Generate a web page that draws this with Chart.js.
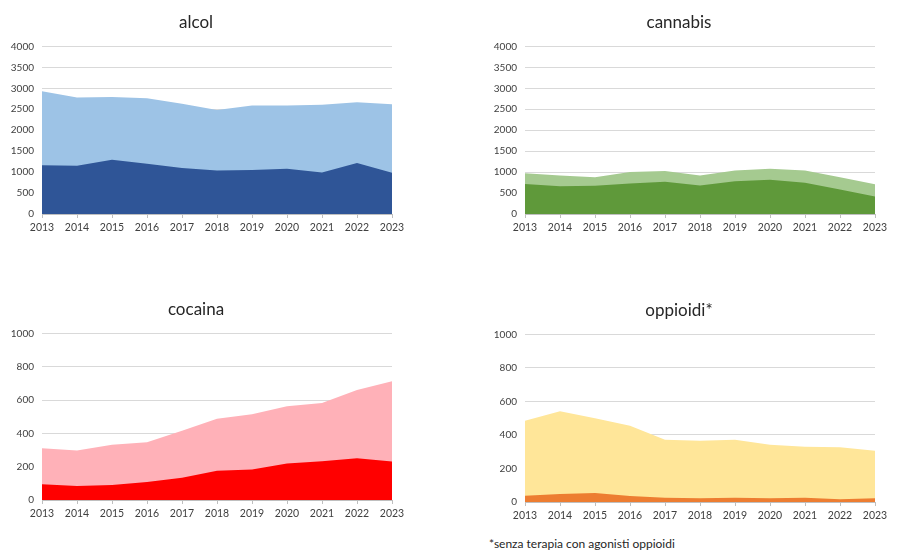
<!DOCTYPE html>
<html><head><meta charset="utf-8">
<script src="https://cdn.jsdelivr.net/npm/chart.js@4"></script>
<style>
html,body{margin:0;padding:0;background:#fff;width:898px;height:552px;overflow:hidden;position:relative;font-family:Lato,"Open Sans",sans-serif;}
.c{position:absolute;}
#note{position:absolute;left:489px;top:536px;font-size:12px;color:#262626;font-family:Lato,sans-serif;}
</style></head><body>
<div class="c" style="left:0;top:0;width:420px;height:245px"><canvas id="c1"></canvas></div>
<div class="c" style="left:483px;top:0;width:415px;height:245px"><canvas id="c2"></canvas></div>
<div class="c" style="left:0;top:287px;width:420px;height:244px"><canvas id="c3"></canvas></div>
<div class="c" style="left:483px;top:288px;width:415px;height:245px"><canvas id="c4"></canvas></div>
<div id="note">*senza terapia con agonisti oppioidi</div>
<script>
const years = ['2013','2014','2015','2016','2017','2018','2019','2020','2021','2022','2023'];

const alcolTotal = [2930,2780,2790,2760,2630,2480,2590,2590,2610,2670,2620];
const alcolSub   = [1165,1150,1295,1200,1100,1040,1050,1080,990,1220,985];

const cannabisTotal = [970,920,880,1000,1025,920,1040,1080,1040,880,710];
const cannabisSub   = [715,660,675,730,770,680,780,820,745,585,420];

const cocainaTotal = [311,297,331,347,416,488,514,562,582,661,713];
const cocainaSub   = [94,84,90,108,133,175,183,219,233,251,231];

const oppioidiTotal = [485,541,499,455,372,366,372,342,330,326,306];
const oppioidiSub   = [38,48,54,36,26,22,26,22,26,16,22];

function makeChart(id, title, total, sub, cTotal, cSub, yMax, yStep, rightPad){
  new Chart(document.getElementById(id), {
    type: 'line',
    data: {
      labels: years,
      datasets: [
        {data: sub, backgroundColor: cSub, borderWidth: 0, pointRadius: 0, fill: 'origin', tension: 0, order: 0},
        {data: total, backgroundColor: cTotal, borderWidth: 0, pointRadius: 0, fill: 'origin', tension: 0, order: 1}
      ]
    },
    options: {
      responsive: true,
      maintainAspectRatio: false,
      animation: false,
      events: [],
      layout: {padding: {left: 0, right: rightPad, top: 0, bottom: 0}},
      plugins: {
        legend: {display: false},
        tooltip: {enabled: false},
        title: {display: true, text: title, color: '#262626',
          font: {family: 'Lato', size: 17, weight: 'normal', lineHeight: 1.2},
          padding: {top: 12, bottom: 14}}
      },
      scales: {
        x: {
          offset: false,
          grid: {display: true, drawOnChartArea: false, drawTicks: true, tickLength: 4, tickColor: '#BFBFBF'},
          border: {display: true, color: '#BFBFBF', width: 1},
          ticks: {color: '#404040', font: {family: 'Lato', size: 10.5}, padding: 3, maxRotation: 0, autoSkip: false},
          afterFit: s => { s.height = 31; }
        },
        y: {
          min: 0, max: yMax,
          grid: {color: '#D9D9D9', drawTicks: false},
          border: {display: false},
          ticks: {stepSize: yStep, color: '#404040', font: {family: 'Lato', size: 10}, padding: 8,
                  callback: v => String(v)},
          afterFit: s => { s.width = 42; }
        }
      }
    }
  });
}

makeChart('c1', 'alcol', alcolTotal, alcolSub, '#9DC3E6', '#2F5597', 4000, 500, 28);
makeChart('c2', 'cannabis', cannabisTotal, cannabisSub, '#A5CA90', '#5F993A', 4000, 500, 23);
makeChart('c3', 'cocaina', cocainaTotal, cocainaSub, '#FFB1B8', '#FF0000', 1000, 200, 28);
makeChart('c4', 'oppioidi*', oppioidiTotal, oppioidiSub, '#FFE699', '#ED7D31', 1000, 200, 23);
</script>
</body></html>
